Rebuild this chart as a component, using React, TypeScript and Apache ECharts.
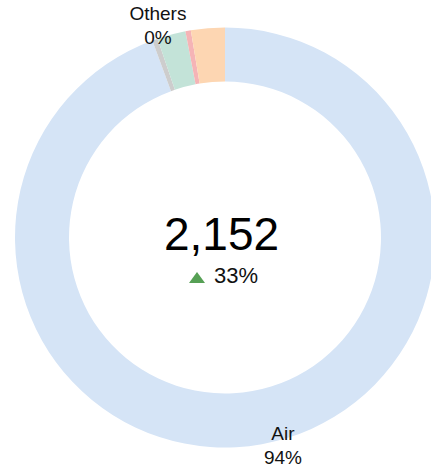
import React, { useEffect, useRef } from "react";
import * as echarts from "echarts";

const categories = ["Air", "Others", "Ocean", "Rail", "Truck"];
const values = [2031, 9, 47, 9, 56];
const labeled = ["Air", "Others"];
const changeText = "33%";

const colors = ["#d5e4f6", "#cdcdcd", "#c3e3d8", "#f5b4b6", "#fdd6b2"];
const labelOffsets: Record<string, [number, number]> = {
  Air: [16, 1],
  Others: [8, -14],
};
const FONT = "'Liberation Sans', Arial, Helvetica, sans-serif";

export default function App() {
  const ref = useRef<HTMLDivElement>(null);
  useEffect(() => {
    if (!ref.current) return;
    const chart = echarts.init(ref.current, undefined, { renderer: "svg" });
    const total = values.reduce((a, b) => a + b, 0);
    chart.setOption({
      animation: false,
      backgroundColor: "#ffffff",
      series: [
        {
          type: "pie",
          center: [225, 237.5],
          radius: [156, 210],
          startAngle: 90,
          clockwise: true,
          avoidLabelOverlap: false,
          itemStyle: { borderWidth: 0 },
          label: {
            show: true,
            position: "outside",
            fontSize: 19,
            lineHeight: 24,
            color: "#111111",
            fontFamily: FONT,
            formatter: (p: any) => `${p.name}\n${Math.round(p.percent)}%`,
          },
          labelLine: { show: false, length: 0, length2: 0 },
          labelLayout: (params: any) => {
            const name = categories[params.dataIndex];
            const off = labelOffsets[name] || [0, 0];
            return { align: "center", dx: off[0], dy: off[1] };
          },
          emphasis: { disabled: true },
          data: categories.map((name, i) => ({
            name,
            value: values[i],
            itemStyle: { color: colors[i] },
            label: { show: labeled.includes(name) },
          })),
        },
      ],
      graphic: [
        {
          type: "text",
          x: 221.5,
          y: 233.5,
          style: {
            text: total.toLocaleString("en-US"),
            fontSize: 46,
            fontFamily: FONT,
            fill: "#000000",
            align: "center",
            verticalAlign: "middle",
          },
        },
        {
          type: "polygon",
          shape: { points: [[189, 283], [205, 283], [197, 272]] },
          style: { fill: "#56a055" },
        },
        {
          type: "text",
          x: 214,
          y: 275.5,
          style: {
            text: changeText,
            fontSize: 22,
            fontFamily: FONT,
            fill: "#111111",
            align: "left",
            verticalAlign: "middle",
          },
        },
      ],
    });
    return () => chart.dispose();
  }, []);
  return (
    <div
      ref={ref}
      style={{ position: "absolute", left: 0, top: 0, width: 431, height: 468 }}
    />
  );
}
